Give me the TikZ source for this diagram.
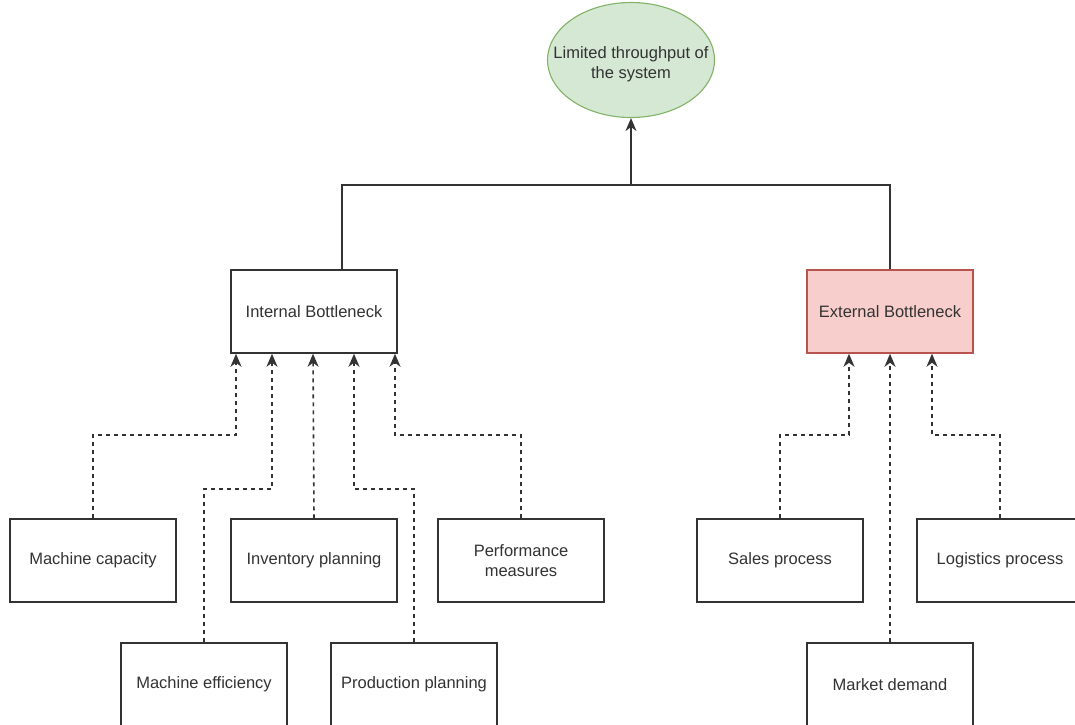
\documentclass[tikz,border=0pt]{standalone}
\usepackage{fontspec}
\setmainfont{Liberation Sans}
\usetikzlibrary{arrows.meta,shapes.geometric}

\definecolor{ink}{HTML}{333333}
\definecolor{goalfill}{HTML}{D5E8D4}
\definecolor{goalline}{HTML}{82B366}
\definecolor{extfill}{HTML}{F8CECC}
\definecolor{extline}{HTML}{B85450}

\tikzset{
  every node/.style={font=\fontsize{16.5}{20}\selectfont, text=ink},
  factor/.style={draw=ink, line width=1.5pt, fill=white, minimum width=166pt, minimum height=83pt, inner sep=0pt, align=center},
  goal/.style={ellipse, draw=goalline, line width=1.1pt, fill=goalfill, minimum width=167pt, minimum height=115pt, inner sep=0pt},
  tree/.style={draw=ink, line width=1.5pt},
  tip/.style={-{Stealth[length=13pt, width=11pt, inset=4pt]}},
  dep/.style={draw=ink, line width=1.6pt, dash pattern=on 4pt off 4pt, tip},
}

\begin{document}
\begin{tikzpicture}[x=1pt, y=-1pt]
  \useasboundingbox (0,0) rectangle (1075,724);
  \clip (0,0) rectangle (1075,724);
  \fill[white] (0,0) rectangle (1075,724);

  % goal
  \node[goal] (top) at (631,60) {};
  \node[align=center, inner sep=0pt] (toptext) at (631,64) {Limited throughput of\\the system};

  % bottleneck categories
  \node[factor] (int) at (314,311.5) {Internal Bottleneck};
  \node[factor, fill=extfill, draw=extline] (ext) at (890,311.5) {External Bottleneck};

  % contributing factors
  \node[factor] (mcap) at (93,560.5) {Machine capacity};
  \node[factor] (inv)  at (314,560.5)  {Inventory planning};
  \node[factor] (perf) at (521,560.5)  {Performance\\measures};
  \node[factor] (meff) at (204,684.5)  {Machine efficiency};
  \node[factor] (prod) at (414,684.5) {Production planning};
  \node[factor] (sales) at (780,560.5) {Sales process};
  \node[factor] (logi)  at (1000,560.5) {Logistics process};
  \node[factor] (mkt)   at (890,684.5) {Market demand};

  % categories joined to the goal
  \coordinate (j) at (631,185);
  \draw[tree] ([xshift=28pt]int.north) |- (j) -| (ext.north);
  \draw[tree, tip] (j) -- (top.south);

  % internal factors
  \draw[dep] (mcap.north) -- ++(0,-83) -| ([xshift=-78pt]int.south);
  \draw[dep] (meff.north) -- ++(0,-153) -| ([xshift=-42pt]int.south);
  \draw[dep] (inv.north) -- ([xshift=-1pt]int.south);
  \draw[dep] (prod.north) -- ++(0,-153) -| ([xshift=40pt]int.south);
  \draw[dep] (perf.north) -- ++(0,-83) -| ([xshift=81pt]int.south);

  % external factors
  \draw[dep] (sales.north) -- ++(0,-83) -| ([xshift=-41pt]ext.south);
  \draw[dep] (mkt.north) -- (ext.south);
  \draw[dep] (logi.north) -- ++(0,-83) -| ([xshift=42pt]ext.south);
\end{tikzpicture}
\end{document}
